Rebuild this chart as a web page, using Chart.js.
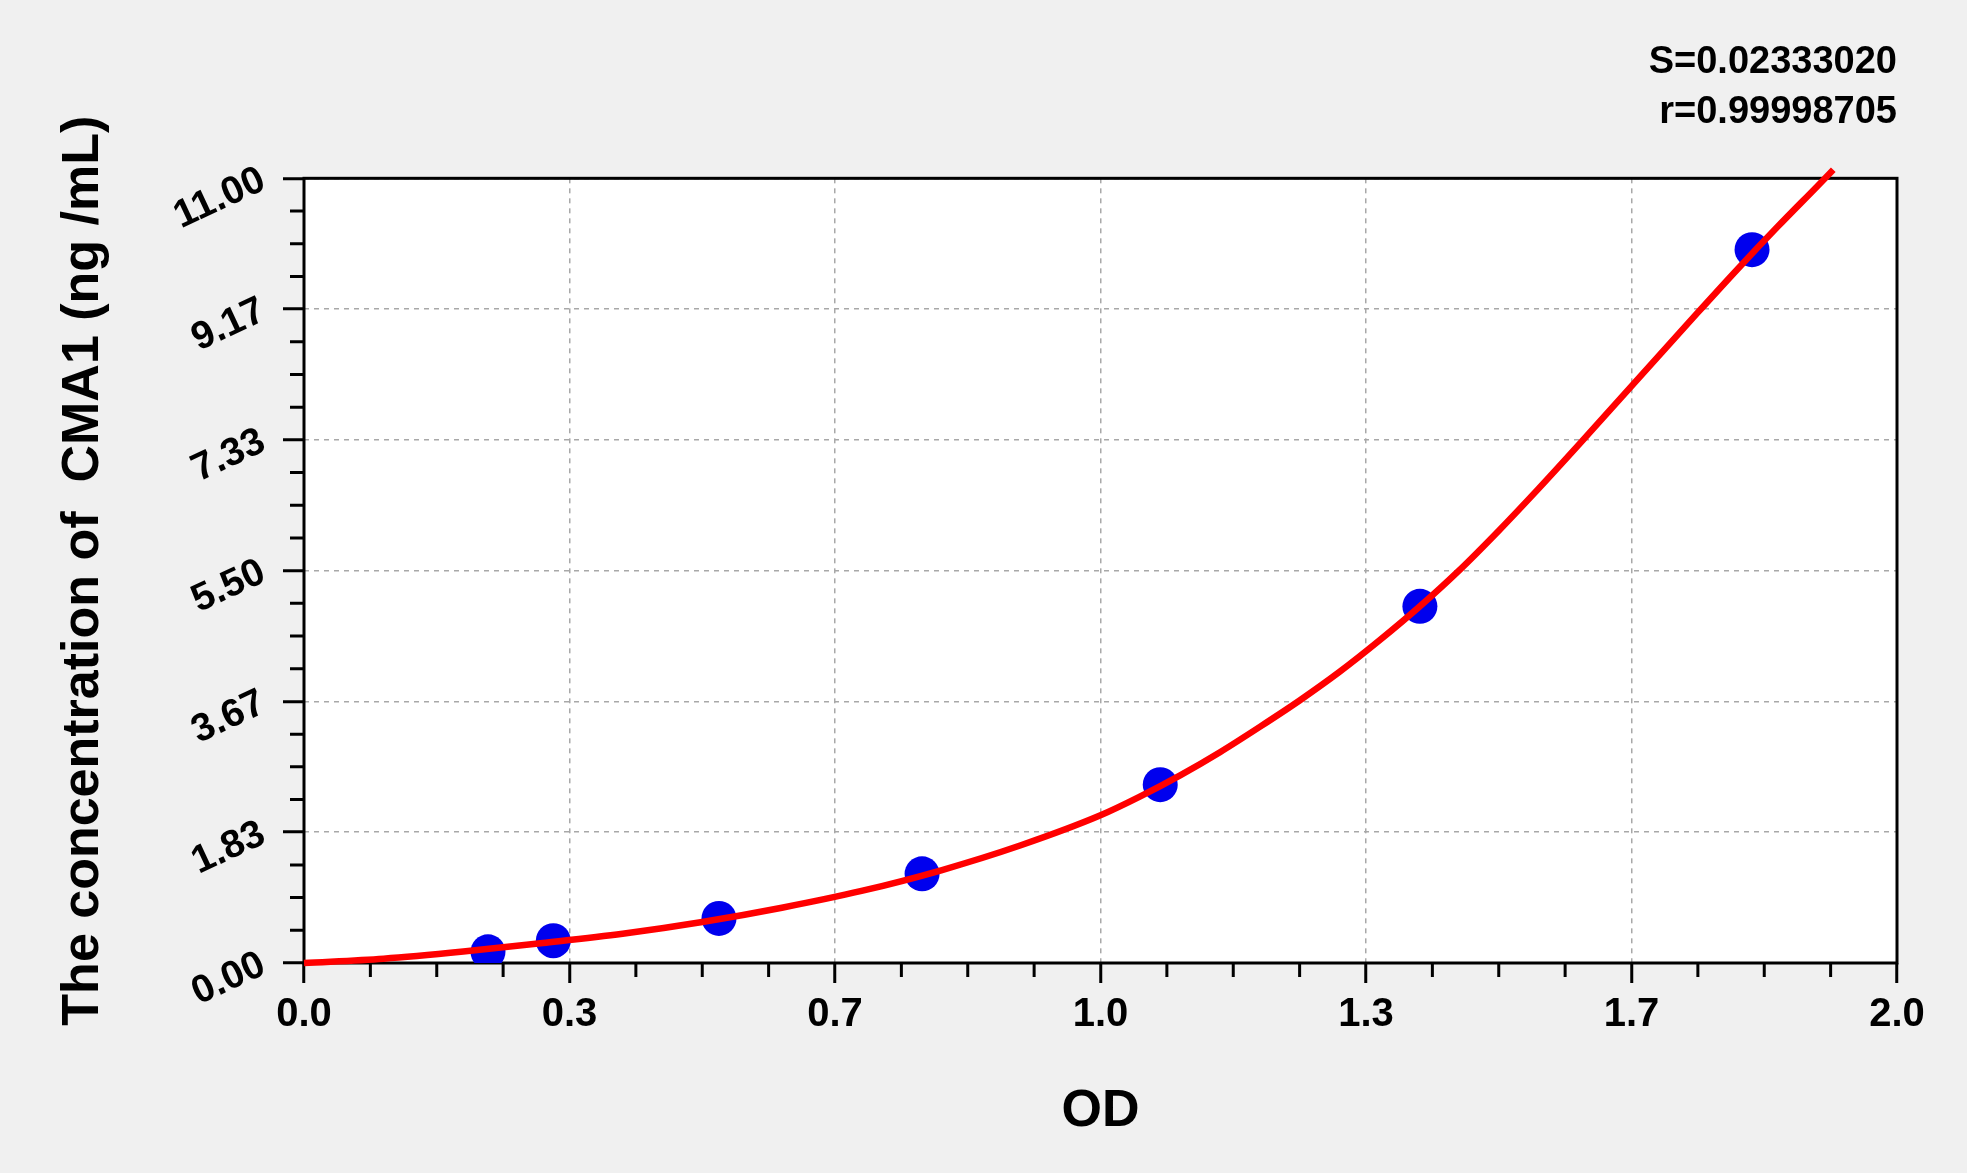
<!DOCTYPE html>
<html><head><meta charset="utf-8">
<script src="https://cdn.jsdelivr.net/npm/chart.js@4.4.0/dist/chart.umd.min.js"></script>
<style>html,body{margin:0;padding:0;background:#f0f0f0;overflow:hidden}#wrap{width:1967px;height:1173px}</style>
</head><body><div id="wrap"><canvas id="c" width="1967" height="1173"></canvas></div>
<script>
// Standard points (OD vs concentration)
const standardOD = [0.231, 0.313, 0.521, 0.776, 1.075, 1.401, 1.818];
const standardConc = [0.156, 0.3125, 0.625, 1.25, 2.5, 5, 10];
// Fitted curve
const curveOD =   [0, 0.1, 0.2, 0.3, 0.4, 0.5, 0.6, 0.7, 0.8, 0.9, 1.0, 1.05, 1.1, 1.15, 1.2, 1.25, 1.3, 1.35, 1.4, 1.45, 1.5, 1.55, 1.6, 1.65, 1.7, 1.75, 1.8, 1.85, 1.9, 1.92];
const curveConc = [0, 0.06, 0.16, 0.28, 0.41, 0.575, 0.775, 1.01, 1.3, 1.65, 2.07, 2.335, 2.63, 2.955, 3.31, 3.68, 4.08, 4.52, 4.99, 5.5, 6.06, 6.65, 7.26, 7.88, 8.5, 9.12, 9.73, 10.32, 10.89, 11.12];
// Axis ticks
const xTickValues = [0, 0.33333, 0.66667, 1.0, 1.33333, 1.66667, 2.0];
const xTickLabels = ['0.0', '0.3', '0.7', '1.0', '1.3', '1.7', '2.0'];
const yTickValues = [0, 1.83333, 3.66667, 5.5, 7.33333, 9.16667, 11.0];
const yTickLabels = ['0.00', '1.83', '3.67', '5.50', '7.33', '9.17', '11.00'];
const minorPerMajor = 4;
// Fit statistics
const statLines = ['S=0.02333020', 'r=0.99998705'];
const xTitle = 'OD';
const yTitle = 'The concentration of  CMA1 (ng /mL)';

const FONT = "'Liberation Sans', Arial, sans-serif";

function minorValues(majors) {
  const out = [];
  for (let i = 0; i < majors.length - 1; i++) {
    const step = (majors[i + 1] - majors[i]) / minorPerMajor;
    for (let k = 1; k < minorPerMajor; k++) out.push(majors[i] + k * step);
  }
  return out;
}

const framePlugin = {
  id: 'frame',
  beforeDraw(chart) {
    const {ctx, chartArea: a} = chart;
    ctx.save();
    ctx.fillStyle = '#f0f0f0';
    ctx.fillRect(0, 0, chart.width, chart.height);
    ctx.fillStyle = '#ffffff';
    ctx.fillRect(a.left, a.top, a.right - a.left, a.bottom - a.top);
    ctx.restore();
  },
  beforeDatasetsDraw(chart) {
    const {ctx, chartArea: a, scales} = chart;
    ctx.save();
    ctx.strokeStyle = '#000';
    ctx.lineWidth = 3;
    ctx.strokeRect(a.left, a.top, a.right - a.left, a.bottom - a.top);
    ctx.beginPath();
    minorValues(xTickValues).forEach(v => {
      const px = scales.x.getPixelForValue(v);
      ctx.moveTo(px, a.bottom); ctx.lineTo(px, a.bottom + 14);
    });
    minorValues(yTickValues).forEach(v => {
      const py = scales.y.getPixelForValue(v);
      ctx.moveTo(a.left, py); ctx.lineTo(a.left - 14, py);
    });
    ctx.stroke();
    ctx.restore();
  }
};

new Chart(document.getElementById('c'), {
  type: 'scatter',
  data: {
    datasets: [
      {
        label: 'fit',
        data: curveOD.map((x, i) => ({x, y: curveConc[i]})),
        showLine: true,
        borderColor: '#ff0000',
        borderWidth: 6.5,
        pointRadius: 0,
        cubicInterpolationMode: 'monotone',
        clip: false
      },
      {
        label: 'standards',
        data: standardOD.map((x, i) => ({x, y: standardConc[i]})),
        backgroundColor: '#0000ee',
        borderWidth: 0,
        pointRadius: 17.5
      }
    ]
  },
  options: {
    responsive: false,
    devicePixelRatio: 1,
    animation: false,
    layout: {padding: {left: 0, right: 70, top: 0, bottom: 0}},
    plugins: {
      legend: {display: false},
      tooltip: {enabled: false},
      title: {
        display: true,
        text: statLines,
        align: 'end',
        color: '#000',
        font: {family: FONT, size: 38, weight: 'bold', lineHeight: 1.32},
        padding: {top: 37, bottom: 41}
      }
    },
    scales: {
      x: {
        type: 'linear', min: 0, max: 2,
        afterBuildTicks: s => { s.ticks = xTickValues.map(v => ({value: v})); },
        afterFit: s => { s.height = 210; },
        ticks: {
          callback: (v, i) => xTickLabels[i],
          color: '#000', font: {family: FONT, size: 40, weight: 'bold'},
          padding: 8, maxRotation: 0, autoSkip: false
        },
        grid: {color: '#a8a8a8', lineWidth: 1.5, tickLength: 20, tickColor: '#000', tickWidth: 3},
        border: {display: false, dash: [5, 5]},
        title: {display: true, text: xTitle, color: '#000', font: {family: FONT, size: 52, weight: 'bold'}, padding: {top: 0, bottom: 30}}
      },
      y: {
        type: 'linear', min: 0, max: 11,
        afterBuildTicks: s => { s.ticks = yTickValues.map(v => ({value: v})); },
        afterFit: s => { s.width = 304; },
        ticks: {
          callback: (v, i) => yTickLabels[i],
          color: '#000', font: {family: FONT, size: 39, weight: 'bold'},
          padding: 20, minRotation: 25, maxRotation: 25, autoSkip: false
        },
        grid: {color: '#a8a8a8', lineWidth: 1.5, tickLength: 21, tickColor: '#000', tickWidth: 3},
        border: {display: false, dash: [5, 5]},
        title: {display: true, text: yTitle, color: '#000', font: {family: FONT, size: 52, weight: 'bold'}, padding: {top: 52, bottom: 0}}
      }
    }
  },
  plugins: [framePlugin]
});
</script>
</body></html>
